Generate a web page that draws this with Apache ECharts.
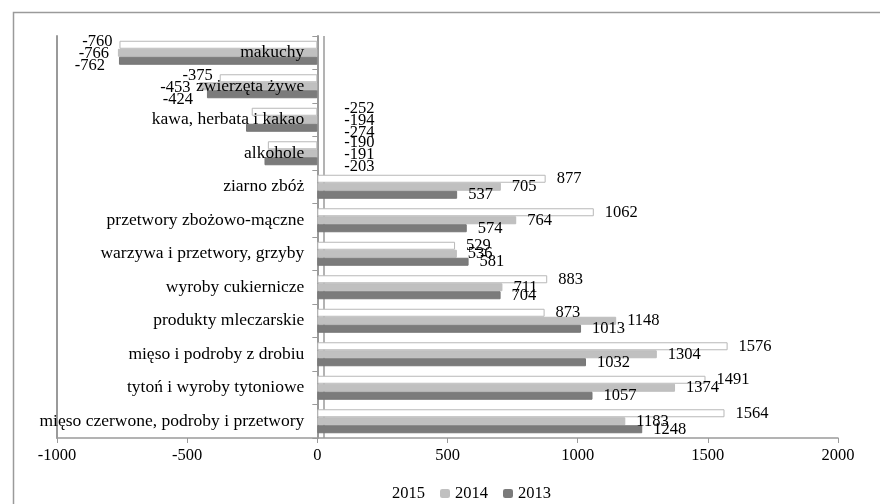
<!DOCTYPE html>
<html>
<head>
<meta charset="utf-8">
<script src="https://cdn.jsdelivr.net/npm/echarts@6/dist/echarts.min.js"></script>
<style>
html,body{margin:0;padding:0;background:#fff;}
#c{width:880px;height:504px;}
</style>
</head>
<body>
<div id="c"></div>
<script>
// categories listed bottom-to-top (ECharts category y-axis order)
const categories = [
  'mięso czerwone, podroby i przetwory',
  'tytoń i wyroby tytoniowe',
  'mięso i podroby z drobiu',
  'produkty mleczarskie',
  'wyroby cukiernicze',
  'warzywa i przetwory, grzyby',
  'przetwory zbożowo-mączne',
  'ziarno zbóż',
  'alkohole',
  'kawa, herbata i kakao',
  'zwierzęta żywe',
  'makuchy'
];
const values2015 = [1564, 1491, 1576, 873, 883, 529, 1062, 877, -190, -252, -375, -760];
const values2014 = [1183, 1374, 1304, 1148, 711, 536, 764, 705, -191, -194, -453, -766];
const values2013 = [1248, 1057, 1032, 1013, 704, 581, 574, 537, -203, -274, -424, -762];
const xTicks = [-1000, -500, 0, 500, 1000, 1500, 2000];

const FONT = 'Liberation Serif';
const GRID_LEFT = 57, GRID_RIGHT = 42;
const PLOT_W = 880 - GRID_LEFT - GRID_RIGHT;
const zeroX = PLOT_W * (0 - xTicks[0]) / (xTicks[xTicks.length - 1] - xTicks[0]);

function labelled(vals, st) {
  return vals.map(v => {
    let position = 'right', distance = 11, offset = [0, 0];
    if (v < 0) {
      offset = [0, st.negDy];
      if (v < -300) { position = 'left'; distance = st.negDist; }
      else { position = 'right'; distance = 27; }
    }
    return {value: v, label: {position, distance, offset}};
  });
}

const chart = echarts.init(document.getElementById('c'));
const series = [
  {name: '2015', vals: values2015, color: '#ffffff', border: '#b8b8b8', negDy: -3, negDist: 7},
  {name: '2014', vals: values2014, color: '#c0c0c0', border: '#bdbdbd', negDy: 1, negDist: 9},
  {name: '2013', vals: values2013, color: '#7b7b7b', border: '#777777', negDy: 5, negDist: 14}
].map((s, i) => {
  const o = {
    name: s.name,
    type: 'bar',
    z: 6,
    yAxisIndex: 0,
    barWidth: 8,
    barGap: '0%',
    itemStyle: {color: s.color, borderColor: s.border, borderWidth: 1},
    label: {show: true, color: '#000', fontFamily: FONT, fontSize: 16.5},
    data: labelled(s.vals, s),
    animation: false
  };
  if (i === 0) {
    // back-wall line of the 3D floor, hidden behind the bars
    o.markLine = {
      silent: true, symbol: 'none', z: 1, label: {show: false},
      lineStyle: {color: '#9a9a9a', type: 'solid', width: 1.5},
      data: [{xAxis: 26}]
    };
  }
  return o;
});

chart.setOption({
  animation: false,
  textStyle: {fontFamily: FONT},
  graphic: [{
    type: 'rect', left: 11, top: 10, silent: true,
    shape: {width: 880, height: 500},
    style: {fill: 'none', stroke: '#9a9a9a', lineWidth: 1.5}
  }],
  grid: {left: GRID_LEFT, right: GRID_RIGHT, top: 36, bottom: 66, containLabel: false, outerBoundsMode: 'none'},
  legend: {
    left: 372, top: 480,
    itemWidth: 10, itemHeight: 9, itemGap: 15,
    textStyle: {fontFamily: FONT, fontSize: 16.5, color: '#000'},
    data: [
      {name: '2015', itemStyle: {borderWidth: 0, color: '#ffffff'}},
      {name: '2014', itemStyle: {borderWidth: 0}},
      {name: '2013', itemStyle: {borderWidth: 0}}
    ]
  },
  xAxis: {
    type: 'value', min: xTicks[0], max: xTicks[xTicks.length - 1], interval: 500,
    axisLine: {show: true, onZero: false, lineStyle: {color: '#9a9a9a', width: 1.5}},
    axisTick: {show: true, length: 5, lineStyle: {color: '#9a9a9a'}},
    splitLine: {show: false},
    axisLabel: {color: '#000', fontFamily: FONT, fontSize: 16.5, margin: 9, formatter: v => String(v)}
  },
  yAxis: [{
    type: 'category', data: categories,
    axisLine: {show: true, onZero: true, lineStyle: {color: '#9a9a9a', width: 2}},
    axisTick: {show: true, length: 5, lineStyle: {color: '#9a9a9a'}},
    axisLabel: {show: false}
  }, {
    type: 'category', data: categories, position: 'left', z: 10,
    axisLine: {show: true, onZero: false, lineStyle: {color: '#9a9a9a', width: 2}},
    axisTick: {show: false}, splitLine: {show: false},
    axisLabel: {color: '#000', fontFamily: FONT, fontSize: 17.5, margin: -(zeroX - 13), align: 'right'}
  }],
  series: series
});
</script>
</body>
</html>
